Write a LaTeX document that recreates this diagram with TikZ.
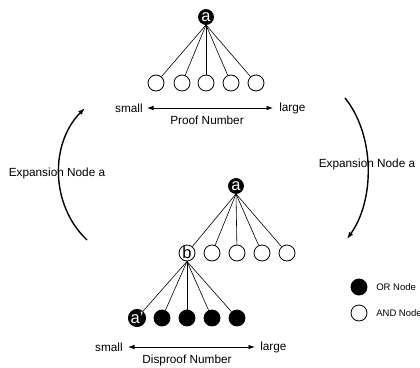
\documentclass[tikz,border=0pt]{standalone}
\usepackage{fontspec}
\setmainfont{Liberation Sans}
\usetikzlibrary{arrows.meta}
\begin{document}
\begin{tikzpicture}[x=1pt, y=-1pt, line width=0.6pt, font=\fontsize{11.8}{14}\selectfont,
  or node/.style={circle, fill=black, draw, line width=0.8pt, minimum size=16pt, inner sep=0pt, text=white, font=\fontsize{16.5}{16}\selectfont},
  and node/.style={circle, fill=white, draw, line width=0.8pt, minimum size=16pt, inner sep=0pt, font=\fontsize{16.5}{16}\selectfont},
  lbl/.style={inner sep=0pt},
  expand/.style={line width=1.4pt, -{Latex[length=7pt,width=5pt]}},
  numscale/.style={line width=0.8pt, {Latex[length=6.5pt,width=4.5pt]}-{Latex[length=6.5pt,width=4.5pt]}}]
\useasboundingbox (0,0) rectangle (420,367);
% top tree
\node[or node, minimum size=15pt] (a1) at (206,17) {a};
\node[and node] (c1) at (156,83) {};
\node[and node] (c2) at (182,83) {};
\node[and node] (c3) at (206,83) {};
\node[and node] (c4) at (231,83) {};
\node[and node] (c5) at (256,83) {};
\draw (a1.south) -- (c1);
\draw (a1.south) -- (c2);
\draw (a1.south) -- (c3);
\draw (a1.south) -- (c4);
\draw (a1.south) -- (c5);
\node[lbl, anchor=east] (small1) at (143,108) {small};
\node[lbl, anchor=west] (large1) at (279,108) {large};
\draw[numscale, shorten <=4pt, shorten >=6pt] (small1) -- (large1);
\node (proof) at (207,120) {Proof Number};
% bottom tree
\node[or node, minimum size=15pt] (a2) at (236,186) {a};
\node[and node] (b) at (187,253) {b};
\node[and node] (d2) at (212,253) {};
\node[and node] (d3) at (237,253) {};
\node[and node] (d4) at (262,253) {};
\node[and node] (d5) at (287,253) {};
\draw (a2.south) -- (b);
\draw (a2.south) -- (d2);
\draw (a2.south) -- (d3);
\draw (a2.south) -- (d4);
\draw (a2.south) -- (d5);
\node[or node] (e1) at (137,318) {a'};
\node[or node] (e2) at (162,318) {};
\node[or node] (e3) at (187,318) {};
\node[or node] (e4) at (212,318) {};
\node[or node] (e5) at (237,318) {};
\draw (b.south) -- (e1);
\draw (b.south) -- (e2);
\draw (b.south) -- (e3);
\draw (b.south) -- (e4);
\draw (b.south) -- (e5);
\node[lbl, anchor=east] (small2) at (123,347) {small};
\node[lbl, anchor=west] (large2) at (260,347) {large};
\draw[numscale, shorten <=5pt, shorten >=5pt] (small2) -- (large2);
\node (disproof) at (187,360) {Disproof Number};
% expansion arcs
\coordinate (l0) at (87,240);
\coordinate (l1) at (85,108);
\draw[expand] (l0) .. controls (50,205) and (50,143) .. (l1);
\node (lexp) at (57,173) {Expansion Node a};
\coordinate (r0) at (345,98);
\coordinate (r1) at (347,239);
\draw[expand] (r0) .. controls (375,135) and (375,200) .. (r1);
\node (rexp) at (367,164) {Expansion Node a};
% legend
\node[or node] (legor) at (359,287) {};
\node[lbl, anchor=west, font=\fontsize{9.5}{11}\selectfont] (legorl) at (376,287) {OR Node};
\node[and node] (legand) at (359,313) {};
\node[lbl, anchor=west, font=\fontsize{9.5}{11}\selectfont] (legandl) at (376,313) {AND Node};
\end{tikzpicture}
\end{document}
